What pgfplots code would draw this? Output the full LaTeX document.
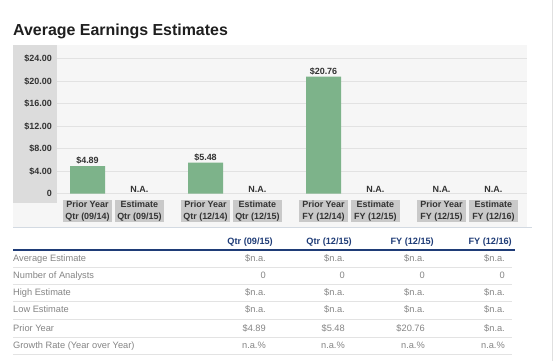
\documentclass[border=0pt]{standalone}
\usepackage{fontspec}
\setmainfont{Liberation Sans}
\usepackage{pgfplots}
\pgfplotsset{compat=1.18}
\definecolor{panelbg}{HTML}{F6F6F6}
\definecolor{ycol}{HTML}{DCDCDC}
\definecolor{gridc}{HTML}{E2E2E2}
\definecolor{barg}{HTML}{7DB38A}
\definecolor{boxgray}{HTML}{C9C9C9}
\definecolor{navy}{HTML}{1F3C77}
\definecolor{tgray}{HTML}{858585}
\definecolor{sepgray}{HTML}{E3E3E3}
\definecolor{topline}{HTML}{D3DAE2}
\definecolor{labk}{HTML}{333333}
\newcommand\cf{\bfseries\fontsize{9}{11.5}\selectfont\color{labk}}
\newcommand\tf{\fontsize{9.3}{11}\selectfont}
\newcommand\trow[6]{%
  \node[anchor=base west,inner sep=0pt,text=tgray,font=\tf] at (13,#1) {#2};
  \node[anchor=base east,inner sep=0pt,text=tgray,font=\tf] at (266,#1) {#3};
  \node[anchor=base east,inner sep=0pt,text=tgray,font=\tf] at (345,#1) {#4};
  \node[anchor=base east,inner sep=0pt,text=tgray,font=\tf] at (425,#1) {#5};
  \node[anchor=base east,inner sep=0pt,text=tgray,font=\tf] at (505,#1) {#6};
}
\begin{document}
\begin{tikzpicture}[x=1bp,y=-1bp]
\path[use as bounding box, fill=white] (0,0) rectangle (554,361);
\fill[panelbg] (13,45) rectangle (527,227);
\fill[ycol] (13,45) rectangle (57,203);
\draw[topline, line width=1bp] (13,227.5) -- (532,227.5);
\draw[black!12, line width=1bp] (552.5,0) -- (552.5,361);
\node[anchor=base west, font=\bfseries\fontsize{16}{19}\selectfont, text=black!88, inner sep=0pt] at (13,35.5) {Average Earnings Estimates};

\begin{axis}[
  at={(57bp,-193.5bp)}, anchor=south west,
  scale only axis, width=470bp, height=135bp,
  xmin=-0.2585, xmax=3.7246, ymin=0, ymax=24,
  axis line style={draw=none}, major tick length=0pt,
  ymajorgrids, grid style={draw=gridc, line width=0.9bp},
  ytick={0,4,8,12,16,20,24},
  yticklabels={0,\$4.00,\$8.00,\$12.00,\$16.00,\$20.00,\$24.00},
  yticklabel style={font=\cf, anchor=east, inner sep=0pt, xshift=-5bp},
  xtick={0,0.44,1,1.44,2,2.44,3,3.44},
  xticklabels={{Prior Year\\Qtr (09/14)},{Estimate\\Qtr (09/15)},{Prior Year\\Qtr (12/14)},{Estimate\\Qtr (12/15)},{Prior Year\\FY (12/14)},{Estimate\\FY (12/15)},{Prior Year\\FY (12/15)},{Estimate\\FY (12/16)}},
  xticklabel style={font=\cf, fill=boxgray, align=center, minimum width=49bp, minimum height=22bp, inner sep=1bp, anchor=north, yshift=-6.5bp},
  /pgf/number format/assume math mode=true,
  clip=false,
]
\addplot[ybar, bar width=35bp, bar shift=0pt, fill=barg, draw=none,
  nodes near coords={\$\pgfmathprintnumber[fixed,precision=2,fixed zerofill]{\pgfplotspointmeta}},
  nodes near coords style={font=\cf, anchor=south, inner sep=1.5bp}]
  coordinates {(0,4.89) (1,5.48) (2,20.76)};
\addplot[draw=none, mark=none,
  nodes near coords={N.A.},
  nodes near coords style={font=\cf, anchor=south, inner sep=1bp}]
  coordinates {(0.44,0) (1.44,0) (2.44,0) (3,0) (3.44,0)};
\end{axis}

% table
\draw[navy, line width=1.3bp] (13,250) -- (515,250);
\foreach \y in {267,284.5,301.5,319,337,354.5} \draw[sepgray, line width=0.8bp] (13,\y) -- (512,\y);
\node[anchor=base east,inner sep=0pt,text=navy,font=\bfseries\fontsize{9.2}{11}\selectfont] at (273,244) {Qtr (09/15)};
\node[anchor=base east,inner sep=0pt,text=navy,font=\bfseries\fontsize{9.2}{11}\selectfont] at (352,244) {Qtr (12/15)};
\node[anchor=base east,inner sep=0pt,text=navy,font=\bfseries\fontsize{9.2}{11}\selectfont] at (434,244) {FY (12/15)};
\node[anchor=base east,inner sep=0pt,text=navy,font=\bfseries\fontsize{9.2}{11}\selectfont] at (512,244) {FY (12/16)};
\trow{261.7}{Average Estimate}{\$n.a.}{\$n.a.}{\$n.a.}{\$n.a.}
\trow{278.6}{Number of Analysts}{0}{0}{0}{0}
\trow{295.7}{High Estimate}{\$n.a.}{\$n.a.}{\$n.a.}{\$n.a.}
\trow{312.9}{Low Estimate}{\$n.a.}{\$n.a.}{\$n.a.}{\$n.a.}
\trow{331}{Prior Year}{\$4.89}{\$5.48}{\$20.76}{\$n.a.}
\trow{348.5}{Growth Rate (Year over Year)}{n.a.\%}{n.a.\%}{n.a.\%}{n.a.\%}
\end{tikzpicture}
\end{document}
